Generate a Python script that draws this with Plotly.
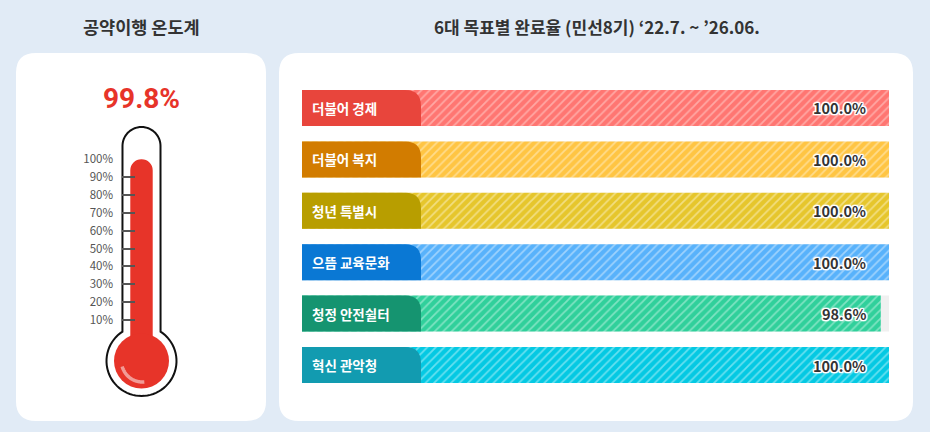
import math
import plotly.graph_objects as go

W, H = 930, 432
KR = "Noto Sans CJK KR"

goals = ["더불어 경제", "더불어 복지", "청년 특별시", "으뜸 교육문화", "청정 안전쉴터", "혁신 관악청"]
rates = [100.0, 100.0, 100.0, 100.0, 98.6, 100.0]
track = [100, 100, 100, 100, 100, 100]
bar_colors = ["#ff7672", "#ffc543", "#e6c62c", "#58b2fb", "#30d09b", "#04c9e3"]
stripe_colors = ["#ffa8a4", "#ffdc8c", "#f2de80", "#9dd2fd", "#7fe3c2", "#66e0f0"]
tab_colors = ["#e8453c", "#d27c00", "#b89e00", "#0a78d4", "#159470", "#129bb0"]

overall = [99.8]
thermo_ticks = [10, 20, 30, 40, 50, 60, 70, 80, 90, 100]

TITLE_L = "공약이행 온도계"
TITLE_R = "6대 목표별 완료율 (민선8기) ‘22.7. ~ ’26.06."


def px(x):
    return x / W


def py(y):
    return 1 - y / H


def P(x, y):
    return f"{x / W:.5f},{1 - y / H:.5f}"


def rrect(x0, y0, x1, y1, r):
    return (f"M{P(x0 + r, y0)} L{P(x1 - r, y0)} Q{P(x1, y0)} {P(x1, y0 + r)} "
            f"L{P(x1, y1 - r)} Q{P(x1, y1)} {P(x1 - r, y1)} L{P(x0 + r, y1)} "
            f"Q{P(x0, y1)} {P(x0, y1 - r)} L{P(x0, y0 + r)} Q{P(x0, y0)} {P(x0 + r, y0)} Z")


def arc_pts(cx, cy, r, a0, a1, n=60):
    pts = []
    for i in range(n + 1):
        a = math.radians(a0 + (a1 - a0) * i / n)
        pts.append((cx + r * math.cos(a), cy + r * math.sin(a)))
    return pts


def poly(pts, close=False):
    s = "M" + " L".join(P(x, y) for x, y in pts)
    return s + (" Z" if close else "")


fig = go.Figure()

# completion bars: grey track, then one patterned bar per goal
fig.add_trace(go.Bar(y=goals, x=track, orientation="h", width=0.7, marker_color="#f0f0f0",
                     marker_line_width=0, hoverinfo="skip", xaxis="x", yaxis="y"))
for g, v, c, s in zip(goals, rates, bar_colors, stripe_colors):
    fig.add_trace(go.Bar(y=[g], x=[v], orientation="h", width=0.7, name=g,
                         marker=dict(color=c, line_width=0,
                                     pattern=dict(shape="/", bgcolor=c, fgcolor=s, fillmode="replace",
                                                  size=6, solidity=0.3)),
                         xaxis="x", yaxis="y"))

# thermometer mercury
fig.add_trace(go.Bar(x=[0], y=overall, width=[0.575], marker=dict(color="#e73429", cornerradius=11.5, line_width=0),
                     xaxis="x2", yaxis="y2"))

shapes = []
# cards
shapes.append(dict(type="path", xref="paper", yref="paper", path=rrect(16, 53, 266, 421, 20),
                   fillcolor="white", line_width=0, layer="below"))
shapes.append(dict(type="path", xref="paper", yref="paper", path=rrect(279, 53, 913, 421, 20),
                   fillcolor="white", line_width=0, layer="below"))

# thermometer outline (tube + bulb)
cx = 141.5
tube = arc_pts(cx, 146, 19, 180, 360)
bulb = arc_pts(cx, 361, 35, -57, 237)
outline = tube + bulb
shapes.append(dict(type="path", xref="paper", yref="paper", path=poly(outline, True),
                   fillcolor="white", line=dict(color="#111111", width=2), layer="below"))
# bulb
shapes.append(dict(type="circle", xref="paper", yref="paper", x0=px(cx - 27.5), x1=px(cx + 27.5),
                   y0=py(361 + 27.5), y1=py(361 - 27.5), fillcolor="#e73429", line_width=0, layer="above"))
# highlight
shapes.append(dict(type="path", xref="paper", yref="paper", path=poly(arc_pts(cx + 1, 361, 21, 85, 165)),
                   line=dict(color="#f29b96", width=3.5), layer="above"))

# category tabs
tab_x0, tab_x1, tab_r, tab_h = 302, 421, 16, 36
step = (365 - 108) / 5
for i, c in enumerate(tab_colors):
    yc = 108 + step * i
    y0, y1 = yc - tab_h / 2, yc + tab_h / 2
    path = (f"M{P(tab_x0, y0)} L{P(tab_x1 - tab_r, y0)} Q{P(tab_x1, y0)} {P(tab_x1, y0 + tab_r)} "
            f"L{P(tab_x1, y1)} L{P(tab_x0, y1)} Z")
    shapes.append(dict(type="path", xref="paper", yref="paper", path=path, fillcolor=c, line_width=0, layer="above"))

annotations = [
    dict(text=TITLE_L, x=px(141), y=py(26), font=dict(family=KR, size=17.5, color="#333333", weight=700)),
    dict(text=TITLE_R, x=px(596.5), y=py(26), font=dict(family=KR, size=17, color="#333333", weight=700)),
    dict(text=f"{overall[0]:.1f}%", x=px(141), y=py(98),
         font=dict(family="Roboto", size=28, color="#e73429", weight=700)),
]
for a in annotations:
    a.update(xref="paper", yref="paper", showarrow=False, xanchor="center", yanchor="middle")

halo = ", ".join(f"{dx}px {dy}px 1px #fff" for dx, dy in
                 [(1, 0), (-1, 0), (0, 1), (0, -1), (1, 1), (-1, -1), (1, -1), (-1, 1)] * 2)
for g, v, t in zip(goals, rates, track):
    annotations.append(dict(text=f"{v:.1f}%", x=t, y=g, xref="x", yref="y", xanchor="right", xshift=-21,
                            yanchor="middle", showarrow=False,
                            font=dict(family=KR, size=14.5, color="#333333", weight=700, shadow=halo)))
for g in goals:
    annotations.append(dict(text=g, x=px(310), y=g, xref="paper", yref="y", xanchor="left", yanchor="middle",
                            showarrow=False, font=dict(family=KR, size=13.5, color="white", weight=700)))

fig.update_layout(
    width=W, height=H, margin=dict(l=0, r=0, t=0, b=0, pad=0, autoexpand=False), autosize=False,
    paper_bgcolor="#e1ebf6", plot_bgcolor="rgba(0,0,0,0)", showlegend=False, barmode="overlay",
    shapes=shapes, annotations=annotations,
    xaxis=dict(domain=[px(302), px(889)], range=[0, 100], visible=False, fixedrange=True),
    yaxis=dict(domain=[py(108 + step * 5.5), py(108 - step * 0.5)], type="category",
               categoryorder="array", categoryarray=goals, autorange=False, range=[5.5, -0.5],
               visible=False, fixedrange=True),
    xaxis2=dict(domain=[px(122), px(161)], range=[-0.5, 0.5], visible=False, fixedrange=True, anchor="y2"),
    yaxis2=dict(domain=[py(338), py(159)], range=[0, 100], anchor="x2", fixedrange=True,
                tickmode="array", tickvals=thermo_ticks, ticktext=[f"{t}%" for t in thermo_ticks],
                ticks="inside", ticklen=13, tickwidth=2, tickcolor="#555555", showgrid=False, zeroline=False,
                showline=False, ticklabelstandoff=8,
                tickfont=dict(family=KR, size=11.5, color="#555555")),
)

fig.write_html("out.html", config={"displayModeBar": False},
               post_script="document.body.style.margin='0';document.documentElement.style.overflow='hidden';")
